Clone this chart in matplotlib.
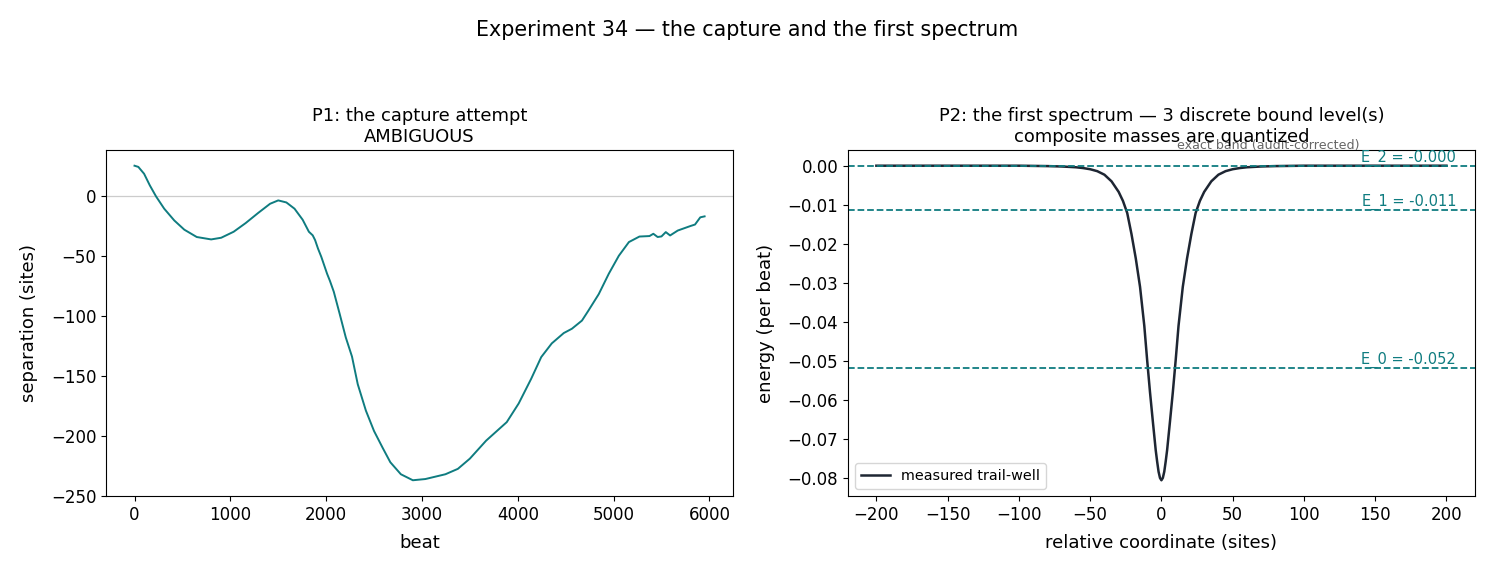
import matplotlib.pyplot as plt

# P1: separation vs beat
beat = [0, 40, 100, 160, 225, 310, 415, 520, 650, 800, 905, 1035, 1160, 1290, 1415,
        1500, 1585, 1670, 1755, 1820, 1860, 1885, 1915, 1950, 2010, 2040, 2080, 2140,
        2205, 2270, 2330, 2415, 2500, 2590, 2670, 2780, 2905, 3035, 3245, 3375, 3500,
        3670, 3885, 4010, 4140, 4245, 4355, 4480, 4565, 4670, 4735, 4845, 4950, 5055,
        5160, 5270, 5375, 5415, 5460, 5500, 5545, 5590, 5670, 5800, 5850, 5905, 5950]
separation = [25, 24, 18.3, 8.6, -0.6, -10.8, -20.6, -28.3, -34.4, -36.4, -35, -30, -22.8,
              -14.4, -6.7, -3.9, -5.6, -10.8, -20, -30, -33, -37, -44, -51, -65, -71, -80,
              -98, -118, -134, -157, -179, -196, -210, -222, -232, -237, -236, -232, -227.5,
              -219, -204, -188.6, -173, -152.5, -134.4, -123, -114.4, -110.8, -104, -96,
              -82, -65, -50, -38.6, -34, -33.6, -31.7, -34.4, -33.9, -30.3, -33.1, -29,
              -25.3, -24, -18, -17.2]

# P2: measured trail-well
rel = [-200, -150, -100, -80, -70, -60, -55, -50, -45, -40, -35, -30, -27, -24, -21, -18,
       -15, -12, -10, -8, -6, -4, -3, -2, -1, 0, 1, 2, 3, 4, 6, 8, 10, 12, 15, 18, 21, 24,
       27, 30, 35, 40, 45, 50, 55, 60, 70, 80, 100, 150, 200]
well = [0, 0, 0, -0.0001, -0.0002, -0.0004, -0.0006, -0.0009, -0.0014, -0.0023, -0.0040,
        -0.0067, -0.0090, -0.0121, -0.0175, -0.0237, -0.0310, -0.0410, -0.0498, -0.0580,
        -0.0655, -0.0728, -0.0757, -0.0783, -0.0799, -0.0805, -0.0799, -0.0783, -0.0757,
        -0.0728, -0.0655, -0.0580, -0.0498, -0.0410, -0.0310, -0.0237, -0.0175, -0.0121,
        -0.0090, -0.0067, -0.0040, -0.0023, -0.0014, -0.0009, -0.0006, -0.0004, -0.0002,
        -0.0001, 0, 0, 0]
levels = [-0.0518, -0.0113, -0.0002]

teal = '#0f7c80'
navy = '#1e2633'

fig = plt.figure(figsize=(14.95, 5.72), dpi=100)
fig.subplots_adjust(left=0.0709, right=0.9866, top=0.7378, bottom=0.1329, wspace=0.183)
ax1 = fig.add_subplot(1, 2, 1)
ax2 = fig.add_subplot(1, 2, 2)

# left panel
ax1.axhline(0, color='#cccccc', lw=0.9)
ax1.plot(beat, separation, color=teal, lw=1.4)
ax1.set_title('P1: the capture attempt\nAMBIGUOUS', fontsize=12.9)
ax1.set_xlabel('beat', fontsize=13, labelpad=7.5)
ax1.set_ylabel('separation (sites)', fontsize=13, labelpad=9)
ax1.tick_params(labelsize=12)

# right panel
ax2.plot(rel, well, color=navy, lw=1.8, label='measured trail-well')
for n, e in enumerate(levels):
    ax2.axhline(e, color=teal, ls='--', lw=1.3)
    ax2.text(0.97, e, f'E_{n} = {e:.3f}', transform=ax2.get_yaxis_transform(),
             ha='right', va='bottom', color=teal, fontsize=10.5)
ax2.text(0.67, 0.995, 'exact band (audit-corrected)', transform=ax2.transAxes,
         ha='center', va='bottom', color='#666666', fontsize=9.1)
ax2.set_title('P2: the first spectrum — 3 discrete bound level(s)\ncomposite masses are quantized',
              fontsize=12.9)
ax2.set_xlabel('relative coordinate (sites)', fontsize=13, labelpad=7.5)
ax2.set_ylabel('energy (per beat)', fontsize=13, labelpad=9)
ax2.tick_params(labelsize=12)
ax2.legend(loc='lower left', fontsize=10.4)

fig.suptitle('Experiment 34 — the capture and the first spectrum', fontsize=14.9, y=0.965)
fig.savefig('out.png', dpi=100)
